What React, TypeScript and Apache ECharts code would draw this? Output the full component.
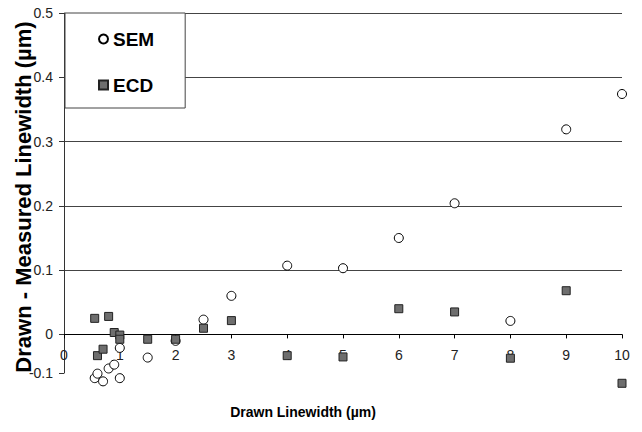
import React, { useEffect, useRef } from 'react';
import * as echarts from 'echarts';

const seriesNames = ['SEM', 'ECD'];
const semX = [0.55, 0.6, 0.7, 0.8, 0.9, 1.0, 1.0, 1.5, 2, 2.5, 3, 4, 5, 6, 7, 8, 9, 10];
const semY = [-0.068, -0.061, -0.073, -0.053, -0.047, -0.021, -0.068, -0.036, -0.01, 0.023, 0.06, 0.107, 0.103, 0.15, 0.204, 0.021, 0.319, 0.374];
const ecdX = [0.55, 0.6, 0.7, 0.8, 0.9, 1.0, 1.0, 1.5, 2, 2.5, 3, 4, 5, 6, 7, 8, 9, 10];
const ecdY = [0.025, -0.033, -0.023, 0.028, 0.003, -0.001, -0.0075, -0.0075, -0.0075, 0.0096, 0.0215, -0.033, -0.035, 0.04, 0.035, -0.037, 0.068, -0.076];
const yTickValues = [-0.06, 0, 0.1, 0.2, 0.3, 0.4, 0.5];
const yTickLabels = ['-0.1', '0', '0.1', '0.2', '0.3', '0.4', '0.5'];
const xMin = 0;
const xMax = 10;
const xInterval = 1;
const xTitle = 'Drawn Linewidth (µm)';
const yTitle = 'Drawn - Measured Linewidth (µm)';

const FONT = "'Liberation Sans', Arial, sans-serif";
const GRID_TOP = 13;
const GRID_BOTTOM = 59;
const HEIGHT = 432;

export default function App() {
  const ref = useRef<HTMLDivElement>(null);
  useEffect(() => {
    if (!ref.current) return;
    const chart = echarts.init(ref.current, null, { renderer: 'svg' });
    const pairs = (xs: number[], ys: number[]) => xs.map((x, i) => [x, ys[i]]);
    const yMin = yTickValues[0];
    const yMax = yTickValues[yTickValues.length - 1];
    const plotH = HEIGHT - GRID_TOP - GRID_BOTTOM;
    // distance from the bottom of the plot to the zero line, so the x axis sits at y = 0
    const zeroOffset = (plotH * (0 - yMin)) / (yMax - yMin);
    chart.setOption({
      animation: false,
      backgroundColor: '#fff',
      textStyle: { fontFamily: FONT },
      grid: { left: 64, right: 20, top: GRID_TOP, bottom: GRID_BOTTOM, containLabel: false, outerBoundsMode: 'none' },
      legend: {
        orient: 'vertical',
        left: 65,
        top: 13,
        data: seriesNames,
        backgroundColor: '#fff',
        borderColor: '#444',
        borderWidth: 1,
        borderRadius: 0,
        padding: [16, 31, 13, 33],
        itemGap: 26,
        itemWidth: 9,
        itemHeight: 9,
        textStyle: { fontFamily: FONT, fontSize: 19, fontWeight: 'bold', color: '#000', lineHeight: 20 },
      },
      xAxis: {
        type: 'value',
        min: xMin,
        max: xMax,
        interval: xInterval,
        position: 'bottom',
        offset: -zeroOffset,
        name: xTitle,
        nameLocation: 'middle',
        nameGap: 71,
        nameMoveOverlap: false,
        nameTextStyle: { fontFamily: FONT, fontSize: 14, fontWeight: 'bold', color: '#000', padding: [0, 80, 0, 0] },
        axisLine: { show: true, onZero: false, lineStyle: { color: '#000', width: 1 } },
        axisTick: { show: true, length: 4, lineStyle: { color: '#000' } },
        axisLabel: { fontFamily: FONT, fontSize: 14, color: '#222', margin: 14 },
        splitLine: { show: false },
      },
      yAxis: {
        type: 'value',
        min: yMin,
        max: yMax,
        name: yTitle,
        nameLocation: 'middle',
        nameGap: 30,
        nameMoveOverlap: false,
        nameTextStyle: { fontFamily: FONT, fontSize: 22, fontWeight: 'bold', color: '#000', padding: [0, 8, 0, 0] },
        axisLine: { show: true, onZero: false, lineStyle: { color: '#333', width: 1 } },
        axisTick: { show: true, length: 5, customValues: yTickValues, lineStyle: { color: '#333' } },
        axisLabel: {
          fontFamily: FONT,
          fontSize: 14,
          color: '#222',
          margin: 11,
          customValues: yTickValues,
          formatter: (v: number) => {
            const i = yTickValues.findIndex((t) => Math.abs(t - v) < 1e-9);
            return i >= 0 ? yTickLabels[i] : '';
          },
        },
        splitLine: { show: true, showMinLine: false, lineStyle: { color: '#444', width: 1 } },
      },
      series: [
        {
          name: seriesNames[0],
          type: 'scatter',
          clip: false,
          symbol: 'circle',
          symbolSize: 9,
          itemStyle: { color: '#fff', borderColor: '#000', borderWidth: 1, opacity: 1 },
          data: pairs(semX, semY),
          z: 3,
        },
        {
          name: seriesNames[1],
          type: 'scatter',
          clip: false,
          symbol: 'rect',
          symbolSize: 8,
          itemStyle: { color: '#6e6e6e', borderColor: '#222', borderWidth: 1, opacity: 1 },
          data: pairs(ecdX, ecdY),
          z: 4,
        },
      ],
    });
    return () => chart.dispose();
  }, []);
  return <div ref={ref} style={{ position: 'fixed', left: 0, top: 0, width: 642, height: 432 }} />;
}
